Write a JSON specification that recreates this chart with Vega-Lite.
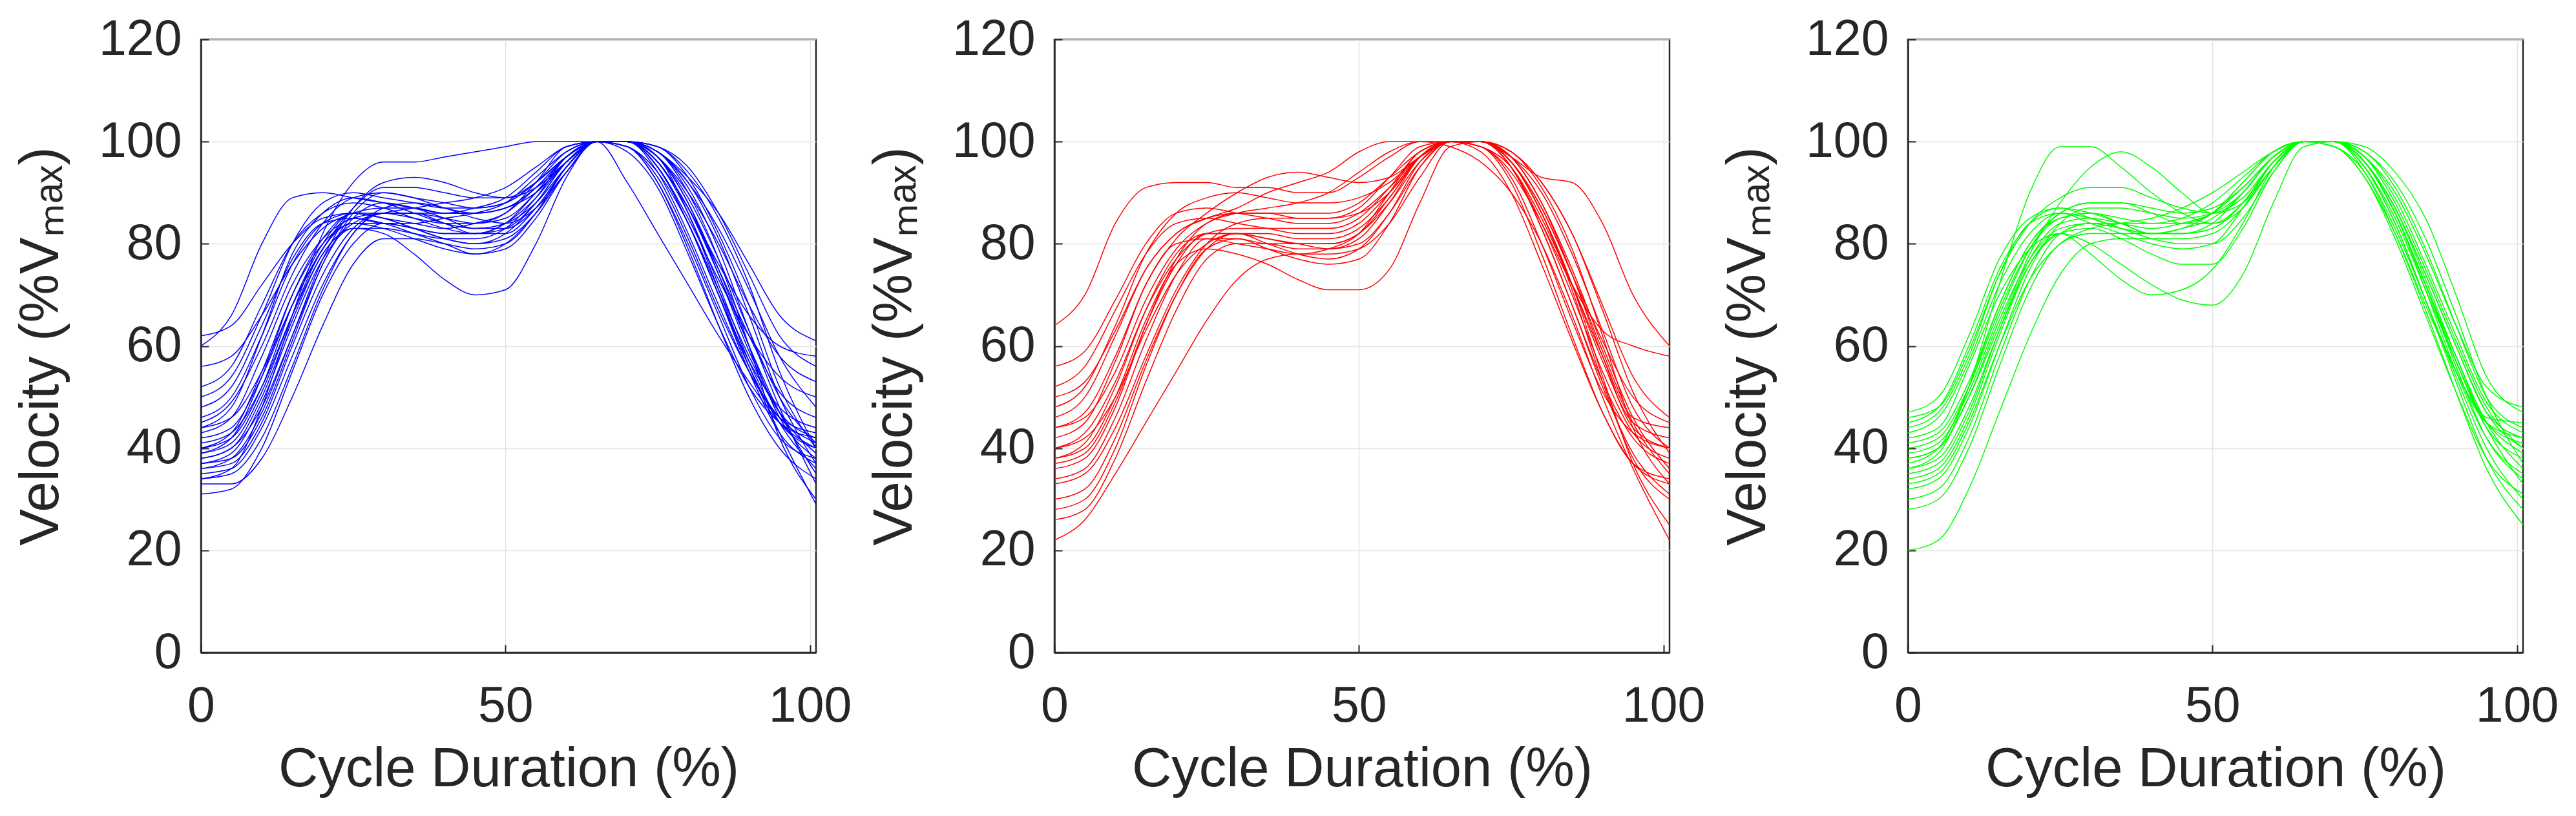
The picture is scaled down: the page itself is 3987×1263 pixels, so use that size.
{
"$schema":"https://vega.github.io/schema/vega-lite/v6.json",
"background":"white",
"padding":{"left":20,"top":20,"right":0,"bottom":0},
"config":{
"font":"Liberation Sans",
"view":{"stroke":"#262626","strokeWidth":2.5},
"axis":{"labelFontSize":77,"titleFontSize":85,"labelColor":"#262626","titleColor":"#262626","titleFontWeight":"normal","domainColor":"#262626","domainWidth":2.5,"tickColor":"#262626","tickWidth":2,"tickSize":-12,"gridColor":"#e3e3e3","gridWidth":1.5,"labelFlush":false,"labelOverlap":false}
},
"datasets":{
"A":[
{"c":1,"x":0,"y":40},{"c":1,"x":5,"y":42},{"c":1,"x":10,"y":52},{"c":1,"x":15,"y":68},{"c":1,"x":20,"y":80},{"c":1,"x":25,"y":86},{"c":1,"x":30,"y":86},{"c":1,"x":35,"y":85},{"c":1,"x":40,"y":84},{"c":1,"x":45,"y":84},{"c":1,"x":50,"y":86},{"c":1,"x":55,"y":92},{"c":1,"x":60,"y":99},{"c":1,"x":65,"y":100},{"c":1,"x":70,"y":100},{"c":1,"x":75,"y":95},{"c":1,"x":80,"y":84},{"c":1,"x":85,"y":70},{"c":1,"x":90,"y":56},{"c":1,"x":95,"y":45},{"c":1,"x":101,"y":40},
{"c":2,"x":0,"y":36},{"c":2,"x":5,"y":37},{"c":2,"x":10,"y":45},{"c":2,"x":15,"y":60},{"c":2,"x":20,"y":74},{"c":2,"x":25,"y":83},{"c":2,"x":30,"y":86},{"c":2,"x":35,"y":86},{"c":2,"x":40,"y":85},{"c":2,"x":45,"y":84},{"c":2,"x":50,"y":85},{"c":2,"x":55,"y":90},{"c":2,"x":60,"y":97},{"c":2,"x":65,"y":100},{"c":2,"x":70,"y":100},{"c":2,"x":75,"y":97},{"c":2,"x":80,"y":88},{"c":2,"x":85,"y":75},{"c":2,"x":90,"y":60},{"c":2,"x":95,"y":46},{"c":2,"x":101,"y":38},
{"c":3,"x":0,"y":60},{"c":3,"x":5,"y":66},{"c":3,"x":10,"y":80},{"c":3,"x":15,"y":89},{"c":3,"x":20,"y":90},{"c":3,"x":25,"y":89},{"c":3,"x":30,"y":88},{"c":3,"x":35,"y":87},{"c":3,"x":40,"y":86},{"c":3,"x":45,"y":87},{"c":3,"x":50,"y":89},{"c":3,"x":55,"y":94},{"c":3,"x":60,"y":99},{"c":3,"x":65,"y":100},{"c":3,"x":70,"y":100},{"c":3,"x":75,"y":96},{"c":3,"x":80,"y":87},{"c":3,"x":85,"y":76},{"c":3,"x":90,"y":66},{"c":3,"x":95,"y":60},{"c":3,"x":101,"y":58},
{"c":4,"x":0,"y":44},{"c":4,"x":5,"y":48},{"c":4,"x":10,"y":62},{"c":4,"x":15,"y":78},{"c":4,"x":20,"y":86},{"c":4,"x":25,"y":89},{"c":4,"x":30,"y":88},{"c":4,"x":35,"y":86},{"c":4,"x":40,"y":84},{"c":4,"x":45,"y":83},{"c":4,"x":50,"y":84},{"c":4,"x":55,"y":88},{"c":4,"x":60,"y":95},{"c":4,"x":65,"y":100},{"c":4,"x":70,"y":100},{"c":4,"x":75,"y":94},{"c":4,"x":80,"y":82},{"c":4,"x":85,"y":68},{"c":4,"x":90,"y":55},{"c":4,"x":95,"y":46},{"c":4,"x":101,"y":43},
{"c":5,"x":0,"y":38},{"c":5,"x":5,"y":40},{"c":5,"x":10,"y":50},{"c":5,"x":15,"y":65},{"c":5,"x":20,"y":78},{"c":5,"x":25,"y":83},{"c":5,"x":30,"y":82},{"c":5,"x":35,"y":78},{"c":5,"x":40,"y":73},{"c":5,"x":45,"y":70},{"c":5,"x":50,"y":71},{"c":5,"x":55,"y":80},{"c":5,"x":60,"y":93},{"c":5,"x":65,"y":100},{"c":5,"x":70,"y":99},{"c":5,"x":75,"y":92},{"c":5,"x":80,"y":80},{"c":5,"x":85,"y":66},{"c":5,"x":90,"y":52},{"c":5,"x":95,"y":42},{"c":5,"x":101,"y":38},
{"c":6,"x":0,"y":34},{"c":6,"x":5,"y":36},{"c":6,"x":10,"y":48},{"c":6,"x":15,"y":66},{"c":6,"x":20,"y":82},{"c":6,"x":25,"y":92},{"c":6,"x":30,"y":96},{"c":6,"x":35,"y":96},{"c":6,"x":40,"y":97},{"c":6,"x":45,"y":98},{"c":6,"x":50,"y":99},{"c":6,"x":55,"y":100},{"c":6,"x":60,"y":100},{"c":6,"x":65,"y":100},{"c":6,"x":70,"y":99},{"c":6,"x":75,"y":94},{"c":6,"x":80,"y":84},{"c":6,"x":85,"y":71},{"c":6,"x":90,"y":58},{"c":6,"x":95,"y":47},{"c":6,"x":101,"y":42},
{"c":7,"x":0,"y":31},{"c":7,"x":5,"y":32},{"c":7,"x":10,"y":40},{"c":7,"x":15,"y":55},{"c":7,"x":20,"y":70},{"c":7,"x":25,"y":80},{"c":7,"x":30,"y":84},{"c":7,"x":35,"y":83},{"c":7,"x":40,"y":82},{"c":7,"x":45,"y":82},{"c":7,"x":50,"y":83},{"c":7,"x":55,"y":88},{"c":7,"x":60,"y":96},{"c":7,"x":65,"y":100},{"c":7,"x":70,"y":100},{"c":7,"x":75,"y":98},{"c":7,"x":80,"y":90},{"c":7,"x":85,"y":77},{"c":7,"x":90,"y":60},{"c":7,"x":95,"y":42},{"c":7,"x":101,"y":30},
{"c":8,"x":0,"y":52},{"c":8,"x":5,"y":56},{"c":8,"x":10,"y":68},{"c":8,"x":15,"y":80},{"c":8,"x":20,"y":86},{"c":8,"x":25,"y":88},{"c":8,"x":30,"y":87},{"c":8,"x":35,"y":85},{"c":8,"x":40,"y":83},{"c":8,"x":45,"y":82},{"c":8,"x":50,"y":84},{"c":8,"x":55,"y":89},{"c":8,"x":60,"y":96},{"c":8,"x":65,"y":100},{"c":8,"x":70,"y":100},{"c":8,"x":75,"y":97},{"c":8,"x":80,"y":90},{"c":8,"x":85,"y":80},{"c":8,"x":90,"y":68},{"c":8,"x":95,"y":58},{"c":8,"x":101,"y":53},
{"c":9,"x":0,"y":42},{"c":9,"x":5,"y":44},{"c":9,"x":10,"y":54},{"c":9,"x":15,"y":68},{"c":9,"x":20,"y":79},{"c":9,"x":25,"y":85},{"c":9,"x":30,"y":84},{"c":9,"x":35,"y":82},{"c":9,"x":40,"y":80},{"c":9,"x":45,"y":78},{"c":9,"x":50,"y":79},{"c":9,"x":55,"y":85},{"c":9,"x":60,"y":94},{"c":9,"x":65,"y":100},{"c":9,"x":70,"y":100},{"c":9,"x":75,"y":96},{"c":9,"x":80,"y":86},{"c":9,"x":85,"y":72},{"c":9,"x":90,"y":57},{"c":9,"x":95,"y":45},{"c":9,"x":101,"y":36},
{"c":10,"x":0,"y":38},{"c":10,"x":5,"y":40},{"c":10,"x":10,"y":48},{"c":10,"x":15,"y":62},{"c":10,"x":20,"y":76},{"c":10,"x":25,"y":86},{"c":10,"x":30,"y":90},{"c":10,"x":35,"y":89},{"c":10,"x":40,"y":87},{"c":10,"x":45,"y":86},{"c":10,"x":50,"y":87},{"c":10,"x":55,"y":91},{"c":10,"x":60,"y":97},{"c":10,"x":65,"y":100},{"c":10,"x":70,"y":100},{"c":10,"x":75,"y":99},{"c":10,"x":80,"y":93},{"c":10,"x":85,"y":82},{"c":10,"x":90,"y":68},{"c":10,"x":95,"y":52},{"c":10,"x":101,"y":40},
{"c":11,"x":0,"y":45},{"c":11,"x":5,"y":49},{"c":11,"x":10,"y":60},{"c":11,"x":15,"y":74},{"c":11,"x":20,"y":84},{"c":11,"x":25,"y":89},{"c":11,"x":30,"y":90},{"c":11,"x":35,"y":89},{"c":11,"x":40,"y":88},{"c":11,"x":45,"y":87},{"c":11,"x":50,"y":88},{"c":11,"x":55,"y":92},{"c":11,"x":60,"y":98},{"c":11,"x":65,"y":100},{"c":11,"x":70,"y":100},{"c":11,"x":75,"y":95},{"c":11,"x":80,"y":84},{"c":11,"x":85,"y":70},{"c":11,"x":90,"y":57},{"c":11,"x":95,"y":48},{"c":11,"x":101,"y":44},
{"c":12,"x":0,"y":33},{"c":12,"x":5,"y":33},{"c":12,"x":10,"y":38},{"c":12,"x":15,"y":50},{"c":12,"x":20,"y":64},{"c":12,"x":25,"y":76},{"c":12,"x":30,"y":81},{"c":12,"x":35,"y":81},{"c":12,"x":40,"y":80},{"c":12,"x":45,"y":79},{"c":12,"x":50,"y":80},{"c":12,"x":55,"y":86},{"c":12,"x":60,"y":95},{"c":12,"x":65,"y":100},{"c":12,"x":70,"y":100},{"c":12,"x":75,"y":98},{"c":12,"x":80,"y":91},{"c":12,"x":85,"y":79},{"c":12,"x":90,"y":63},{"c":12,"x":95,"y":48},{"c":12,"x":101,"y":33},
{"c":13,"x":0,"y":48},{"c":13,"x":5,"y":52},{"c":13,"x":10,"y":64},{"c":13,"x":15,"y":77},{"c":13,"x":20,"y":84},{"c":13,"x":25,"y":85},{"c":13,"x":30,"y":84},{"c":13,"x":35,"y":84},{"c":13,"x":40,"y":85},{"c":13,"x":45,"y":86},{"c":13,"x":50,"y":88},{"c":13,"x":55,"y":93},{"c":13,"x":60,"y":98},{"c":13,"x":65,"y":100},{"c":13,"x":70,"y":98},{"c":13,"x":75,"y":91},{"c":13,"x":80,"y":78},{"c":13,"x":85,"y":64},{"c":13,"x":90,"y":52},{"c":13,"x":95,"y":45},{"c":13,"x":101,"y":42},
{"c":14,"x":0,"y":40},{"c":14,"x":5,"y":43},{"c":14,"x":10,"y":55},{"c":14,"x":15,"y":70},{"c":14,"x":20,"y":80},{"c":14,"x":25,"y":84},{"c":14,"x":30,"y":84},{"c":14,"x":35,"y":83},{"c":14,"x":40,"y":82},{"c":14,"x":45,"y":82},{"c":14,"x":50,"y":84},{"c":14,"x":55,"y":90},{"c":14,"x":60,"y":97},{"c":14,"x":65,"y":100},{"c":14,"x":70,"y":92},{"c":14,"x":75,"y":82},{"c":14,"x":80,"y":72},{"c":14,"x":85,"y":62},{"c":14,"x":90,"y":53},{"c":14,"x":95,"y":45},{"c":14,"x":101,"y":40},
{"c":15,"x":0,"y":36},{"c":15,"x":5,"y":38},{"c":15,"x":10,"y":47},{"c":15,"x":15,"y":62},{"c":15,"x":20,"y":77},{"c":15,"x":25,"y":87},{"c":15,"x":30,"y":92},{"c":15,"x":35,"y":93},{"c":15,"x":40,"y":92},{"c":15,"x":45,"y":90},{"c":15,"x":50,"y":89},{"c":15,"x":55,"y":91},{"c":15,"x":60,"y":96},{"c":15,"x":65,"y":100},{"c":15,"x":70,"y":100},{"c":15,"x":75,"y":97},{"c":15,"x":80,"y":89},{"c":15,"x":85,"y":77},{"c":15,"x":90,"y":63},{"c":15,"x":95,"y":50},{"c":15,"x":101,"y":41},
{"c":16,"x":0,"y":56},{"c":16,"x":5,"y":58},{"c":16,"x":10,"y":66},{"c":16,"x":15,"y":76},{"c":16,"x":20,"y":83},{"c":16,"x":25,"y":86},{"c":16,"x":30,"y":87},{"c":16,"x":35,"y":87},{"c":16,"x":40,"y":86},{"c":16,"x":45,"y":86},{"c":16,"x":50,"y":87},{"c":16,"x":55,"y":90},{"c":16,"x":60,"y":96},{"c":16,"x":65,"y":100},{"c":16,"x":70,"y":100},{"c":16,"x":75,"y":99},{"c":16,"x":80,"y":95},{"c":16,"x":85,"y":86},{"c":16,"x":90,"y":74},{"c":16,"x":95,"y":62},{"c":16,"x":101,"y":56},
{"c":17,"x":0,"y":39},{"c":17,"x":5,"y":41},{"c":17,"x":10,"y":51},{"c":17,"x":15,"y":66},{"c":17,"x":20,"y":79},{"c":17,"x":25,"y":84},{"c":17,"x":30,"y":83},{"c":17,"x":35,"y":81},{"c":17,"x":40,"y":79},{"c":17,"x":45,"y":78},{"c":17,"x":50,"y":80},{"c":17,"x":55,"y":86},{"c":17,"x":60,"y":95},{"c":17,"x":65,"y":100},{"c":17,"x":70,"y":100},{"c":17,"x":75,"y":96},{"c":17,"x":80,"y":87},{"c":17,"x":85,"y":74},{"c":17,"x":90,"y":60},{"c":17,"x":95,"y":47},{"c":17,"x":101,"y":35},
{"c":18,"x":0,"y":43},{"c":18,"x":5,"y":46},{"c":18,"x":10,"y":58},{"c":18,"x":15,"y":72},{"c":18,"x":20,"y":81},{"c":18,"x":25,"y":85},{"c":18,"x":30,"y":86},{"c":18,"x":35,"y":86},{"c":18,"x":40,"y":86},{"c":18,"x":45,"y":86},{"c":18,"x":50,"y":87},{"c":18,"x":55,"y":90},{"c":18,"x":60,"y":96},{"c":18,"x":65,"y":100},{"c":18,"x":70,"y":99},{"c":18,"x":75,"y":93},{"c":18,"x":80,"y":81},{"c":18,"x":85,"y":67},{"c":18,"x":90,"y":55},{"c":18,"x":95,"y":46},{"c":18,"x":101,"y":41},
{"c":19,"x":0,"y":35},{"c":19,"x":5,"y":36},{"c":19,"x":10,"y":44},{"c":19,"x":15,"y":58},{"c":19,"x":20,"y":72},{"c":19,"x":25,"y":82},{"c":19,"x":30,"y":87},{"c":19,"x":35,"y":88},{"c":19,"x":40,"y":87},{"c":19,"x":45,"y":85},{"c":19,"x":50,"y":84},{"c":19,"x":55,"y":87},{"c":19,"x":60,"y":94},{"c":19,"x":65,"y":100},{"c":19,"x":70,"y":100},{"c":19,"x":75,"y":97},{"c":19,"x":80,"y":86},{"c":19,"x":85,"y":71},{"c":19,"x":90,"y":56},{"c":19,"x":95,"y":43},{"c":19,"x":101,"y":29},
{"c":20,"x":0,"y":50},{"c":20,"x":5,"y":54},{"c":20,"x":10,"y":66},{"c":20,"x":15,"y":80},{"c":20,"x":20,"y":88},{"c":20,"x":25,"y":90},{"c":20,"x":30,"y":89},{"c":20,"x":35,"y":88},{"c":20,"x":40,"y":87},{"c":20,"x":45,"y":87},{"c":20,"x":50,"y":88},{"c":20,"x":55,"y":92},{"c":20,"x":60,"y":97},{"c":20,"x":65,"y":100},{"c":20,"x":70,"y":100},{"c":20,"x":75,"y":95},{"c":20,"x":80,"y":85},{"c":20,"x":85,"y":73},{"c":20,"x":90,"y":62},{"c":20,"x":95,"y":54},{"c":20,"x":101,"y":50},
{"c":21,"x":0,"y":37},{"c":21,"x":5,"y":38},{"c":21,"x":10,"y":46},{"c":21,"x":15,"y":61},{"c":21,"x":20,"y":76},{"c":21,"x":25,"y":85},{"c":21,"x":30,"y":88},{"c":21,"x":35,"y":87},{"c":21,"x":40,"y":85},{"c":21,"x":45,"y":83},{"c":21,"x":50,"y":83},{"c":21,"x":55,"y":87},{"c":21,"x":60,"y":95},{"c":21,"x":65,"y":100},{"c":21,"x":70,"y":100},{"c":21,"x":75,"y":98},{"c":21,"x":80,"y":92},{"c":21,"x":85,"y":81},{"c":21,"x":90,"y":66},{"c":21,"x":95,"y":50},{"c":21,"x":101,"y":37},
{"c":22,"x":0,"y":46},{"c":22,"x":5,"y":50},{"c":22,"x":10,"y":62},{"c":22,"x":15,"y":76},{"c":22,"x":20,"y":84},{"c":22,"x":25,"y":86},{"c":22,"x":30,"y":85},{"c":22,"x":35,"y":83},{"c":22,"x":40,"y":81},{"c":22,"x":45,"y":80},{"c":22,"x":50,"y":82},{"c":22,"x":55,"y":88},{"c":22,"x":60,"y":96},{"c":22,"x":65,"y":100},{"c":22,"x":70,"y":100},{"c":22,"x":75,"y":96},{"c":22,"x":80,"y":87},{"c":22,"x":85,"y":75},{"c":22,"x":90,"y":62},{"c":22,"x":95,"y":51},{"c":22,"x":101,"y":46},
{"c":23,"x":0,"y":41},{"c":23,"x":5,"y":43},{"c":23,"x":10,"y":52},{"c":23,"x":15,"y":66},{"c":23,"x":20,"y":78},{"c":23,"x":25,"y":84},{"c":23,"x":30,"y":86},{"c":23,"x":35,"y":87},{"c":23,"x":40,"y":88},{"c":23,"x":45,"y":89},{"c":23,"x":50,"y":91},{"c":23,"x":55,"y":95},{"c":23,"x":60,"y":99},{"c":23,"x":65,"y":100},{"c":23,"x":70,"y":100},{"c":23,"x":75,"y":97},{"c":23,"x":80,"y":88},{"c":23,"x":85,"y":74},{"c":23,"x":90,"y":59},{"c":23,"x":95,"y":47},{"c":23,"x":101,"y":39},
{"c":24,"x":0,"y":34},{"c":24,"x":5,"y":35},{"c":24,"x":10,"y":42},{"c":24,"x":15,"y":56},{"c":24,"x":20,"y":71},{"c":24,"x":25,"y":82},{"c":24,"x":30,"y":86},{"c":24,"x":35,"y":86},{"c":24,"x":40,"y":84},{"c":24,"x":45,"y":82},{"c":24,"x":50,"y":82},{"c":24,"x":55,"y":87},{"c":24,"x":60,"y":95},{"c":24,"x":65,"y":100},{"c":24,"x":70,"y":100},{"c":24,"x":75,"y":99},{"c":24,"x":80,"y":94},{"c":24,"x":85,"y":85},{"c":24,"x":90,"y":72},{"c":24,"x":95,"y":55},{"c":24,"x":101,"y":40},
{"c":25,"x":0,"y":62},{"c":25,"x":5,"y":64},{"c":25,"x":10,"y":72},{"c":25,"x":15,"y":80},{"c":25,"x":20,"y":85},{"c":25,"x":25,"y":86},{"c":25,"x":30,"y":85},{"c":25,"x":35,"y":84},{"c":25,"x":40,"y":83},{"c":25,"x":45,"y":84},{"c":25,"x":50,"y":86},{"c":25,"x":55,"y":91},{"c":25,"x":60,"y":97},{"c":25,"x":65,"y":100},{"c":25,"x":70,"y":100},{"c":25,"x":75,"y":98},{"c":25,"x":80,"y":93},{"c":25,"x":85,"y":86},{"c":25,"x":90,"y":76},{"c":25,"x":95,"y":66},{"c":25,"x":101,"y":61},
{"c":26,"x":0,"y":39},{"c":26,"x":5,"y":42},{"c":26,"x":10,"y":54},{"c":26,"x":15,"y":70},{"c":26,"x":20,"y":81},{"c":26,"x":25,"y":86},{"c":26,"x":30,"y":85},{"c":26,"x":35,"y":83},{"c":26,"x":40,"y":81},{"c":26,"x":45,"y":80},{"c":26,"x":50,"y":81},{"c":26,"x":55,"y":86},{"c":26,"x":60,"y":94},{"c":26,"x":65,"y":100},{"c":26,"x":70,"y":99},{"c":26,"x":75,"y":92},{"c":26,"x":80,"y":79},{"c":26,"x":85,"y":64},{"c":26,"x":90,"y":50},{"c":26,"x":95,"y":40},{"c":26,"x":101,"y":34},
{"c":27,"x":0,"y":44},{"c":27,"x":5,"y":46},{"c":27,"x":10,"y":55},{"c":27,"x":15,"y":68},{"c":27,"x":20,"y":79},{"c":27,"x":25,"y":87},{"c":27,"x":30,"y":91},{"c":27,"x":35,"y":91},{"c":27,"x":40,"y":90},{"c":27,"x":45,"y":89},{"c":27,"x":50,"y":89},{"c":27,"x":55,"y":92},{"c":27,"x":60,"y":97},{"c":27,"x":65,"y":100},{"c":27,"x":70,"y":100},{"c":27,"x":75,"y":98},{"c":27,"x":80,"y":92},{"c":27,"x":85,"y":83},{"c":27,"x":90,"y":71},{"c":27,"x":95,"y":58},{"c":27,"x":101,"y":48},
{"c":28,"x":0,"y":37},{"c":28,"x":5,"y":39},{"c":28,"x":10,"y":49},{"c":28,"x":15,"y":64},{"c":28,"x":20,"y":77},{"c":28,"x":25,"y":83},{"c":28,"x":30,"y":83},{"c":28,"x":35,"y":82},{"c":28,"x":40,"y":81},{"c":28,"x":45,"y":81},{"c":28,"x":50,"y":83},{"c":28,"x":55,"y":89},{"c":28,"x":60,"y":97},{"c":28,"x":65,"y":100},{"c":28,"x":70,"y":100},{"c":28,"x":75,"y":95},{"c":28,"x":80,"y":84},{"c":28,"x":85,"y":70},{"c":28,"x":90,"y":55},{"c":28,"x":95,"y":43},{"c":28,"x":101,"y":37}
],
"B":[
{"c":1,"x":0,"y":42},{"c":1,"x":5,"y":45},{"c":1,"x":10,"y":57},{"c":1,"x":15,"y":72},{"c":1,"x":20,"y":80},{"c":1,"x":25,"y":81},{"c":1,"x":30,"y":80},{"c":1,"x":35,"y":79},{"c":1,"x":40,"y":78},{"c":1,"x":45,"y":79},{"c":1,"x":50,"y":82},{"c":1,"x":55,"y":90},{"c":1,"x":60,"y":98},{"c":1,"x":65,"y":100},{"c":1,"x":70,"y":100},{"c":1,"x":75,"y":95},{"c":1,"x":80,"y":84},{"c":1,"x":85,"y":70},{"c":1,"x":90,"y":55},{"c":1,"x":95,"y":43},{"c":1,"x":101,"y":38},
{"c":2,"x":0,"y":64},{"c":2,"x":5,"y":70},{"c":2,"x":10,"y":84},{"c":2,"x":15,"y":91},{"c":2,"x":20,"y":92},{"c":2,"x":25,"y":92},{"c":2,"x":30,"y":91},{"c":2,"x":35,"y":91},{"c":2,"x":40,"y":90},{"c":2,"x":45,"y":90},{"c":2,"x":50,"y":93},{"c":2,"x":55,"y":97},{"c":2,"x":60,"y":100},{"c":2,"x":65,"y":100},{"c":2,"x":70,"y":99},{"c":2,"x":75,"y":94},{"c":2,"x":80,"y":84},{"c":2,"x":85,"y":72},{"c":2,"x":90,"y":63},{"c":2,"x":95,"y":60},{"c":2,"x":101,"y":58},
{"c":3,"x":0,"y":22},{"c":3,"x":5,"y":26},{"c":3,"x":10,"y":35},{"c":3,"x":15,"y":45},{"c":3,"x":20,"y":55},{"c":3,"x":25,"y":65},{"c":3,"x":30,"y":73},{"c":3,"x":35,"y":77},{"c":3,"x":40,"y":78},{"c":3,"x":45,"y":78},{"c":3,"x":50,"y":79},{"c":3,"x":55,"y":84},{"c":3,"x":60,"y":93},{"c":3,"x":65,"y":100},{"c":3,"x":70,"y":100},{"c":3,"x":75,"y":96},{"c":3,"x":80,"y":86},{"c":3,"x":85,"y":72},{"c":3,"x":90,"y":54},{"c":3,"x":95,"y":37},{"c":3,"x":101,"y":25},
{"c":4,"x":0,"y":38},{"c":4,"x":5,"y":40},{"c":4,"x":10,"y":50},{"c":4,"x":15,"y":65},{"c":4,"x":20,"y":76},{"c":4,"x":25,"y":79},{"c":4,"x":30,"y":78},{"c":4,"x":35,"y":76},{"c":4,"x":40,"y":73},{"c":4,"x":45,"y":71},{"c":4,"x":50,"y":71},{"c":4,"x":55,"y":75},{"c":4,"x":60,"y":88},{"c":4,"x":65,"y":99},{"c":4,"x":70,"y":100},{"c":4,"x":75,"y":95},{"c":4,"x":80,"y":83},{"c":4,"x":85,"y":68},{"c":4,"x":90,"y":53},{"c":4,"x":95,"y":42},{"c":4,"x":101,"y":37},
{"c":5,"x":0,"y":48},{"c":5,"x":5,"y":52},{"c":5,"x":10,"y":64},{"c":5,"x":15,"y":78},{"c":5,"x":20,"y":86},{"c":5,"x":25,"y":89},{"c":5,"x":30,"y":90},{"c":5,"x":35,"y":89},{"c":5,"x":40,"y":88},{"c":5,"x":45,"y":88},{"c":5,"x":50,"y":89},{"c":5,"x":55,"y":92},{"c":5,"x":60,"y":97},{"c":5,"x":65,"y":100},{"c":5,"x":70,"y":99},{"c":5,"x":75,"y":93},{"c":5,"x":80,"y":80},{"c":5,"x":85,"y":65},{"c":5,"x":90,"y":51},{"c":5,"x":95,"y":43},{"c":5,"x":101,"y":40},
{"c":6,"x":0,"y":50},{"c":6,"x":5,"y":53},{"c":6,"x":10,"y":63},{"c":6,"x":15,"y":75},{"c":6,"x":20,"y":82},{"c":6,"x":25,"y":85},{"c":6,"x":30,"y":86},{"c":6,"x":35,"y":86},{"c":6,"x":40,"y":86},{"c":6,"x":45,"y":86},{"c":6,"x":50,"y":88},{"c":6,"x":55,"y":93},{"c":6,"x":60,"y":98},{"c":6,"x":65,"y":100},{"c":6,"x":70,"y":100},{"c":6,"x":75,"y":97},{"c":6,"x":80,"y":93},{"c":6,"x":85,"y":92},{"c":6,"x":90,"y":84},{"c":6,"x":95,"y":70},{"c":6,"x":101,"y":60},
{"c":7,"x":0,"y":30},{"c":7,"x":5,"y":32},{"c":7,"x":10,"y":42},{"c":7,"x":15,"y":57},{"c":7,"x":20,"y":70},{"c":7,"x":25,"y":79},{"c":7,"x":30,"y":82},{"c":7,"x":35,"y":82},{"c":7,"x":40,"y":81},{"c":7,"x":45,"y":81},{"c":7,"x":50,"y":83},{"c":7,"x":55,"y":89},{"c":7,"x":60,"y":97},{"c":7,"x":65,"y":100},{"c":7,"x":70,"y":100},{"c":7,"x":75,"y":96},{"c":7,"x":80,"y":86},{"c":7,"x":85,"y":71},{"c":7,"x":90,"y":53},{"c":7,"x":95,"y":38},{"c":7,"x":101,"y":30},
{"c":8,"x":0,"y":36},{"c":8,"x":5,"y":38},{"c":8,"x":10,"y":48},{"c":8,"x":15,"y":64},{"c":8,"x":20,"y":77},{"c":8,"x":25,"y":84},{"c":8,"x":30,"y":86},{"c":8,"x":35,"y":86},{"c":8,"x":40,"y":85},{"c":8,"x":45,"y":85},{"c":8,"x":50,"y":87},{"c":8,"x":55,"y":93},{"c":8,"x":60,"y":99},{"c":8,"x":65,"y":100},{"c":8,"x":70,"y":100},{"c":8,"x":75,"y":96},{"c":8,"x":80,"y":87},{"c":8,"x":85,"y":74},{"c":8,"x":90,"y":59},{"c":8,"x":95,"y":45},{"c":8,"x":101,"y":35},
{"c":9,"x":0,"y":44},{"c":9,"x":5,"y":47},{"c":9,"x":10,"y":58},{"c":9,"x":15,"y":72},{"c":9,"x":20,"y":81},{"c":9,"x":25,"y":86},{"c":9,"x":30,"y":90},{"c":9,"x":35,"y":93},{"c":9,"x":40,"y":94},{"c":9,"x":45,"y":93},{"c":9,"x":50,"y":92},{"c":9,"x":55,"y":93},{"c":9,"x":60,"y":97},{"c":9,"x":65,"y":100},{"c":9,"x":70,"y":99},{"c":9,"x":75,"y":92},{"c":9,"x":80,"y":78},{"c":9,"x":85,"y":62},{"c":9,"x":90,"y":47},{"c":9,"x":95,"y":37},{"c":9,"x":101,"y":33},
{"c":10,"x":0,"y":26},{"c":10,"x":5,"y":28},{"c":10,"x":10,"y":38},{"c":10,"x":15,"y":53},{"c":10,"x":20,"y":67},{"c":10,"x":25,"y":77},{"c":10,"x":30,"y":80},{"c":10,"x":35,"y":80},{"c":10,"x":40,"y":79},{"c":10,"x":45,"y":79},{"c":10,"x":50,"y":81},{"c":10,"x":55,"y":88},{"c":10,"x":60,"y":97},{"c":10,"x":65,"y":100},{"c":10,"x":70,"y":100},{"c":10,"x":75,"y":98},{"c":10,"x":80,"y":91},{"c":10,"x":85,"y":79},{"c":10,"x":90,"y":62},{"c":10,"x":95,"y":44},{"c":10,"x":101,"y":33},
{"c":11,"x":0,"y":40},{"c":11,"x":5,"y":43},{"c":11,"x":10,"y":53},{"c":11,"x":15,"y":67},{"c":11,"x":20,"y":77},{"c":11,"x":25,"y":82},{"c":11,"x":30,"y":83},{"c":11,"x":35,"y":83},{"c":11,"x":40,"y":83},{"c":11,"x":45,"y":83},{"c":11,"x":50,"y":85},{"c":11,"x":55,"y":91},{"c":11,"x":60,"y":98},{"c":11,"x":65,"y":100},{"c":11,"x":70,"y":98},{"c":11,"x":75,"y":90},{"c":11,"x":80,"y":76},{"c":11,"x":85,"y":61},{"c":11,"x":90,"y":47},{"c":11,"x":95,"y":37},{"c":11,"x":101,"y":34},
{"c":12,"x":0,"y":46},{"c":12,"x":5,"y":50},{"c":12,"x":10,"y":62},{"c":12,"x":15,"y":75},{"c":12,"x":20,"y":82},{"c":12,"x":25,"y":85},{"c":12,"x":30,"y":87},{"c":12,"x":35,"y":90},{"c":12,"x":40,"y":92},{"c":12,"x":45,"y":94},{"c":12,"x":50,"y":98},{"c":12,"x":55,"y":100},{"c":12,"x":60,"y":100},{"c":12,"x":65,"y":99},{"c":12,"x":70,"y":96},{"c":12,"x":75,"y":90},{"c":12,"x":80,"y":80},{"c":12,"x":85,"y":66},{"c":12,"x":90,"y":50},{"c":12,"x":95,"y":36},{"c":12,"x":101,"y":22},
{"c":13,"x":0,"y":34},{"c":13,"x":5,"y":36},{"c":13,"x":10,"y":46},{"c":13,"x":15,"y":61},{"c":13,"x":20,"y":74},{"c":13,"x":25,"y":81},{"c":13,"x":30,"y":81},{"c":13,"x":35,"y":79},{"c":13,"x":40,"y":77},{"c":13,"x":45,"y":76},{"c":13,"x":50,"y":77},{"c":13,"x":55,"y":84},{"c":13,"x":60,"y":95},{"c":13,"x":65,"y":100},{"c":13,"x":70,"y":100},{"c":13,"x":75,"y":97},{"c":13,"x":80,"y":88},{"c":13,"x":85,"y":74},{"c":13,"x":90,"y":58},{"c":13,"x":95,"y":44},{"c":13,"x":101,"y":40},
{"c":14,"x":0,"y":52},{"c":14,"x":5,"y":56},{"c":14,"x":10,"y":67},{"c":14,"x":15,"y":78},{"c":14,"x":20,"y":84},{"c":14,"x":25,"y":85},{"c":14,"x":30,"y":84},{"c":14,"x":35,"y":83},{"c":14,"x":40,"y":82},{"c":14,"x":45,"y":82},{"c":14,"x":50,"y":84},{"c":14,"x":55,"y":90},{"c":14,"x":60,"y":97},{"c":14,"x":65,"y":100},{"c":14,"x":70,"y":100},{"c":14,"x":75,"y":98},{"c":14,"x":80,"y":92},{"c":14,"x":85,"y":82},{"c":14,"x":90,"y":68},{"c":14,"x":95,"y":54},{"c":14,"x":101,"y":46},
{"c":15,"x":0,"y":38},{"c":15,"x":5,"y":41},{"c":15,"x":10,"y":52},{"c":15,"x":15,"y":67},{"c":15,"x":20,"y":78},{"c":15,"x":25,"y":82},{"c":15,"x":30,"y":82},{"c":15,"x":35,"y":81},{"c":15,"x":40,"y":80},{"c":15,"x":45,"y":80},{"c":15,"x":50,"y":82},{"c":15,"x":55,"y":88},{"c":15,"x":60,"y":96},{"c":15,"x":65,"y":100},{"c":15,"x":70,"y":100},{"c":15,"x":75,"y":96},{"c":15,"x":80,"y":86},{"c":15,"x":85,"y":72},{"c":15,"x":90,"y":57},{"c":15,"x":95,"y":45},{"c":15,"x":101,"y":42},
{"c":16,"x":0,"y":40},{"c":16,"x":5,"y":42},{"c":16,"x":10,"y":50},{"c":16,"x":15,"y":63},{"c":16,"x":20,"y":74},{"c":16,"x":25,"y":80},{"c":16,"x":30,"y":82},{"c":16,"x":35,"y":81},{"c":16,"x":40,"y":80},{"c":16,"x":45,"y":79},{"c":16,"x":50,"y":80},{"c":16,"x":55,"y":86},{"c":16,"x":60,"y":95},{"c":16,"x":65,"y":100},{"c":16,"x":70,"y":100},{"c":16,"x":75,"y":97},{"c":16,"x":80,"y":90},{"c":16,"x":85,"y":78},{"c":16,"x":90,"y":63},{"c":16,"x":95,"y":48},{"c":16,"x":101,"y":40},
{"c":17,"x":0,"y":33},{"c":17,"x":5,"y":35},{"c":17,"x":10,"y":44},{"c":17,"x":15,"y":58},{"c":17,"x":20,"y":71},{"c":17,"x":25,"y":80},{"c":17,"x":30,"y":84},{"c":17,"x":35,"y":85},{"c":17,"x":40,"y":85},{"c":17,"x":45,"y":85},{"c":17,"x":50,"y":86},{"c":17,"x":55,"y":90},{"c":17,"x":60,"y":97},{"c":17,"x":65,"y":100},{"c":17,"x":70,"y":100},{"c":17,"x":75,"y":95},{"c":17,"x":80,"y":83},{"c":17,"x":85,"y":68},{"c":17,"x":90,"y":52},{"c":17,"x":95,"y":39},{"c":17,"x":101,"y":31},
{"c":18,"x":0,"y":44},{"c":18,"x":5,"y":46},{"c":18,"x":10,"y":55},{"c":18,"x":15,"y":69},{"c":18,"x":20,"y":79},{"c":18,"x":25,"y":84},{"c":18,"x":30,"y":86},{"c":18,"x":35,"y":87},{"c":18,"x":40,"y":88},{"c":18,"x":45,"y":90},{"c":18,"x":50,"y":94},{"c":18,"x":55,"y":98},{"c":18,"x":60,"y":100},{"c":18,"x":65,"y":100},{"c":18,"x":70,"y":99},{"c":18,"x":75,"y":95},{"c":18,"x":80,"y":85},{"c":18,"x":85,"y":72},{"c":18,"x":90,"y":58},{"c":18,"x":95,"y":46},{"c":18,"x":101,"y":44},
{"c":19,"x":0,"y":37},{"c":19,"x":5,"y":39},{"c":19,"x":10,"y":49},{"c":19,"x":15,"y":64},{"c":19,"x":20,"y":76},{"c":19,"x":25,"y":82},{"c":19,"x":30,"y":82},{"c":19,"x":35,"y":80},{"c":19,"x":40,"y":78},{"c":19,"x":45,"y":77},{"c":19,"x":50,"y":79},{"c":19,"x":55,"y":86},{"c":19,"x":60,"y":96},{"c":19,"x":65,"y":100},{"c":19,"x":70,"y":100},{"c":19,"x":75,"y":98},{"c":19,"x":80,"y":92},{"c":19,"x":85,"y":82},{"c":19,"x":90,"y":67},{"c":19,"x":95,"y":51},{"c":19,"x":101,"y":39},
{"c":20,"x":0,"y":56},{"c":20,"x":5,"y":59},{"c":20,"x":10,"y":69},{"c":20,"x":15,"y":80},{"c":20,"x":20,"y":86},{"c":20,"x":25,"y":87},{"c":20,"x":30,"y":86},{"c":20,"x":35,"y":85},{"c":20,"x":40,"y":84},{"c":20,"x":45,"y":84},{"c":20,"x":50,"y":86},{"c":20,"x":55,"y":91},{"c":20,"x":60,"y":97},{"c":20,"x":65,"y":100},{"c":20,"x":70,"y":100},{"c":20,"x":75,"y":96},{"c":20,"x":80,"y":87},{"c":20,"x":85,"y":74},{"c":20,"x":90,"y":61},{"c":20,"x":95,"y":50},{"c":20,"x":101,"y":45},
{"c":21,"x":0,"y":28},{"c":21,"x":5,"y":30},{"c":21,"x":10,"y":40},{"c":21,"x":15,"y":56},{"c":21,"x":20,"y":70},{"c":21,"x":25,"y":79},{"c":21,"x":30,"y":81},{"c":21,"x":35,"y":80},{"c":21,"x":40,"y":80},{"c":21,"x":45,"y":80},{"c":21,"x":50,"y":82},{"c":21,"x":55,"y":89},{"c":21,"x":60,"y":97},{"c":21,"x":65,"y":100},{"c":21,"x":70,"y":100},{"c":21,"x":75,"y":97},{"c":21,"x":80,"y":88},{"c":21,"x":85,"y":75},{"c":21,"x":90,"y":60},{"c":21,"x":95,"y":46},{"c":21,"x":101,"y":36}
],
"C":[
{"c":1,"x":0,"y":40},{"c":1,"x":5,"y":42},{"c":1,"x":10,"y":52},{"c":1,"x":15,"y":67},{"c":1,"x":20,"y":79},{"c":1,"x":25,"y":85},{"c":1,"x":30,"y":86},{"c":1,"x":35,"y":84},{"c":1,"x":40,"y":82},{"c":1,"x":45,"y":82},{"c":1,"x":50,"y":83},{"c":1,"x":55,"y":88},{"c":1,"x":60,"y":96},{"c":1,"x":65,"y":100},{"c":1,"x":70,"y":100},{"c":1,"x":75,"y":95},{"c":1,"x":80,"y":85},{"c":1,"x":85,"y":71},{"c":1,"x":90,"y":57},{"c":1,"x":95,"y":45},{"c":1,"x":101,"y":41},
{"c":2,"x":0,"y":36},{"c":2,"x":5,"y":39},{"c":2,"x":10,"y":52},{"c":2,"x":15,"y":72},{"c":2,"x":20,"y":90},{"c":2,"x":25,"y":99},{"c":2,"x":30,"y":99},{"c":2,"x":35,"y":95},{"c":2,"x":40,"y":90},{"c":2,"x":45,"y":86},{"c":2,"x":50,"y":84},{"c":2,"x":55,"y":87},{"c":2,"x":60,"y":95},{"c":2,"x":65,"y":100},{"c":2,"x":70,"y":100},{"c":2,"x":75,"y":96},{"c":2,"x":80,"y":87},{"c":2,"x":85,"y":74},{"c":2,"x":90,"y":60},{"c":2,"x":95,"y":47},{"c":2,"x":101,"y":42},
{"c":3,"x":0,"y":34},{"c":3,"x":5,"y":36},{"c":3,"x":10,"y":46},{"c":3,"x":15,"y":62},{"c":3,"x":20,"y":76},{"c":3,"x":25,"y":82},{"c":3,"x":30,"y":80},{"c":3,"x":35,"y":76},{"c":3,"x":40,"y":72},{"c":3,"x":45,"y":69},{"c":3,"x":50,"y":68},{"c":3,"x":55,"y":74},{"c":3,"x":60,"y":88},{"c":3,"x":65,"y":99},{"c":3,"x":70,"y":100},{"c":3,"x":75,"y":96},{"c":3,"x":80,"y":86},{"c":3,"x":85,"y":72},{"c":3,"x":90,"y":57},{"c":3,"x":95,"y":44},{"c":3,"x":101,"y":38},
{"c":4,"x":0,"y":45},{"c":4,"x":5,"y":48},{"c":4,"x":10,"y":60},{"c":4,"x":15,"y":75},{"c":4,"x":20,"y":84},{"c":4,"x":25,"y":87},{"c":4,"x":30,"y":86},{"c":4,"x":35,"y":84},{"c":4,"x":40,"y":82},{"c":4,"x":45,"y":82},{"c":4,"x":50,"y":84},{"c":4,"x":55,"y":90},{"c":4,"x":60,"y":97},{"c":4,"x":65,"y":100},{"c":4,"x":70,"y":100},{"c":4,"x":75,"y":97},{"c":4,"x":80,"y":90},{"c":4,"x":85,"y":78},{"c":4,"x":90,"y":64},{"c":4,"x":95,"y":52},{"c":4,"x":101,"y":48},
{"c":5,"x":0,"y":20},{"c":5,"x":5,"y":22},{"c":5,"x":10,"y":32},{"c":5,"x":15,"y":47},{"c":5,"x":20,"y":62},{"c":5,"x":25,"y":74},{"c":5,"x":30,"y":80},{"c":5,"x":35,"y":81},{"c":5,"x":40,"y":81},{"c":5,"x":45,"y":81},{"c":5,"x":50,"y":82},{"c":5,"x":55,"y":87},{"c":5,"x":60,"y":95},{"c":5,"x":65,"y":100},{"c":5,"x":70,"y":100},{"c":5,"x":75,"y":95},{"c":5,"x":80,"y":84},{"c":5,"x":85,"y":69},{"c":5,"x":90,"y":53},{"c":5,"x":95,"y":38},{"c":5,"x":101,"y":28},
{"c":6,"x":0,"y":38},{"c":6,"x":5,"y":40},{"c":6,"x":10,"y":50},{"c":6,"x":15,"y":64},{"c":6,"x":20,"y":78},{"c":6,"x":25,"y":88},{"c":6,"x":30,"y":95},{"c":6,"x":35,"y":98},{"c":6,"x":40,"y":95},{"c":6,"x":45,"y":90},{"c":6,"x":50,"y":86},{"c":6,"x":55,"y":88},{"c":6,"x":60,"y":95},{"c":6,"x":65,"y":100},{"c":6,"x":70,"y":100},{"c":6,"x":75,"y":98},{"c":6,"x":80,"y":91},{"c":6,"x":85,"y":79},{"c":6,"x":90,"y":64},{"c":6,"x":95,"y":50},{"c":6,"x":101,"y":44},
{"c":7,"x":0,"y":30},{"c":7,"x":5,"y":32},{"c":7,"x":10,"y":42},{"c":7,"x":15,"y":58},{"c":7,"x":20,"y":73},{"c":7,"x":25,"y":82},{"c":7,"x":30,"y":84},{"c":7,"x":35,"y":83},{"c":7,"x":40,"y":82},{"c":7,"x":45,"y":83},{"c":7,"x":50,"y":85},{"c":7,"x":55,"y":90},{"c":7,"x":60,"y":97},{"c":7,"x":65,"y":100},{"c":7,"x":70,"y":100},{"c":7,"x":75,"y":94},{"c":7,"x":80,"y":82},{"c":7,"x":85,"y":67},{"c":7,"x":90,"y":51},{"c":7,"x":95,"y":36},{"c":7,"x":101,"y":25},
{"c":8,"x":0,"y":42},{"c":8,"x":5,"y":44},{"c":8,"x":10,"y":56},{"c":8,"x":15,"y":70},{"c":8,"x":20,"y":79},{"c":8,"x":25,"y":82},{"c":8,"x":30,"y":78},{"c":8,"x":35,"y":73},{"c":8,"x":40,"y":70},{"c":8,"x":45,"y":71},{"c":8,"x":50,"y":75},{"c":8,"x":55,"y":84},{"c":8,"x":60,"y":95},{"c":8,"x":65,"y":100},{"c":8,"x":70,"y":100},{"c":8,"x":75,"y":97},{"c":8,"x":80,"y":88},{"c":8,"x":85,"y":75},{"c":8,"x":90,"y":61},{"c":8,"x":95,"y":48},{"c":8,"x":101,"y":40},
{"c":9,"x":0,"y":47},{"c":9,"x":5,"y":50},{"c":9,"x":10,"y":62},{"c":9,"x":15,"y":77},{"c":9,"x":20,"y":85},{"c":9,"x":25,"y":87},{"c":9,"x":30,"y":85},{"c":9,"x":35,"y":83},{"c":9,"x":40,"y":82},{"c":9,"x":45,"y":83},{"c":9,"x":50,"y":86},{"c":9,"x":55,"y":92},{"c":9,"x":60,"y":98},{"c":9,"x":65,"y":100},{"c":9,"x":70,"y":99},{"c":9,"x":75,"y":93},{"c":9,"x":80,"y":82},{"c":9,"x":85,"y":68},{"c":9,"x":90,"y":55},{"c":9,"x":95,"y":45},{"c":9,"x":101,"y":39},
{"c":10,"x":0,"y":35},{"c":10,"x":5,"y":37},{"c":10,"x":10,"y":47},{"c":10,"x":15,"y":63},{"c":10,"x":20,"y":77},{"c":10,"x":25,"y":84},{"c":10,"x":30,"y":85},{"c":10,"x":35,"y":84},{"c":10,"x":40,"y":83},{"c":10,"x":45,"y":84},{"c":10,"x":50,"y":86},{"c":10,"x":55,"y":91},{"c":10,"x":60,"y":97},{"c":10,"x":65,"y":100},{"c":10,"x":70,"y":100},{"c":10,"x":75,"y":96},{"c":10,"x":80,"y":87},{"c":10,"x":85,"y":73},{"c":10,"x":90,"y":58},{"c":10,"x":95,"y":45},{"c":10,"x":101,"y":36},
{"c":11,"x":0,"y":33},{"c":11,"x":5,"y":35},{"c":11,"x":10,"y":45},{"c":11,"x":15,"y":60},{"c":11,"x":20,"y":73},{"c":11,"x":25,"y":80},{"c":11,"x":30,"y":83},{"c":11,"x":35,"y":84},{"c":11,"x":40,"y":85},{"c":11,"x":45,"y":87},{"c":11,"x":50,"y":90},{"c":11,"x":55,"y":94},{"c":11,"x":60,"y":98},{"c":11,"x":65,"y":100},{"c":11,"x":70,"y":100},{"c":11,"x":75,"y":96},{"c":11,"x":80,"y":86},{"c":11,"x":85,"y":72},{"c":11,"x":90,"y":57},{"c":11,"x":95,"y":44},{"c":11,"x":101,"y":33},
{"c":12,"x":0,"y":39},{"c":12,"x":5,"y":41},{"c":12,"x":10,"y":51},{"c":12,"x":15,"y":66},{"c":12,"x":20,"y":79},{"c":12,"x":25,"y":86},{"c":12,"x":30,"y":88},{"c":12,"x":35,"y":88},{"c":12,"x":40,"y":87},{"c":12,"x":45,"y":86},{"c":12,"x":50,"y":87},{"c":12,"x":55,"y":91},{"c":12,"x":60,"y":97},{"c":12,"x":65,"y":100},{"c":12,"x":70,"y":100},{"c":12,"x":75,"y":99},{"c":12,"x":80,"y":94},{"c":12,"x":85,"y":85},{"c":12,"x":90,"y":70},{"c":12,"x":95,"y":54},{"c":12,"x":101,"y":47},
{"c":13,"x":0,"y":43},{"c":13,"x":5,"y":46},{"c":13,"x":10,"y":57},{"c":13,"x":15,"y":72},{"c":13,"x":20,"y":82},{"c":13,"x":25,"y":86},{"c":13,"x":30,"y":85},{"c":13,"x":35,"y":83},{"c":13,"x":40,"y":81},{"c":13,"x":45,"y":80},{"c":13,"x":50,"y":80},{"c":13,"x":55,"y":85},{"c":13,"x":60,"y":94},{"c":13,"x":65,"y":100},{"c":13,"x":70,"y":100},{"c":13,"x":75,"y":95},{"c":13,"x":80,"y":84},{"c":13,"x":85,"y":69},{"c":13,"x":90,"y":55},{"c":13,"x":95,"y":45},{"c":13,"x":101,"y":42},
{"c":14,"x":0,"y":28},{"c":14,"x":5,"y":30},{"c":14,"x":10,"y":40},{"c":14,"x":15,"y":56},{"c":14,"x":20,"y":71},{"c":14,"x":25,"y":80},{"c":14,"x":30,"y":82},{"c":14,"x":35,"y":82},{"c":14,"x":40,"y":82},{"c":14,"x":45,"y":82},{"c":14,"x":50,"y":83},{"c":14,"x":55,"y":88},{"c":14,"x":60,"y":96},{"c":14,"x":65,"y":100},{"c":14,"x":70,"y":99},{"c":14,"x":75,"y":94},{"c":14,"x":80,"y":83},{"c":14,"x":85,"y":69},{"c":14,"x":90,"y":54},{"c":14,"x":95,"y":40},{"c":14,"x":101,"y":30},
{"c":15,"x":0,"y":37},{"c":15,"x":5,"y":40},{"c":15,"x":10,"y":52},{"c":15,"x":15,"y":68},{"c":15,"x":20,"y":80},{"c":15,"x":25,"y":85},{"c":15,"x":30,"y":86},{"c":15,"x":35,"y":85},{"c":15,"x":40,"y":84},{"c":15,"x":45,"y":84},{"c":15,"x":50,"y":86},{"c":15,"x":55,"y":92},{"c":15,"x":60,"y":98},{"c":15,"x":65,"y":100},{"c":15,"x":70,"y":100},{"c":15,"x":75,"y":96},{"c":15,"x":80,"y":86},{"c":15,"x":85,"y":71},{"c":15,"x":90,"y":55},{"c":15,"x":95,"y":42},{"c":15,"x":101,"y":35},
{"c":16,"x":0,"y":41},{"c":16,"x":5,"y":43},{"c":16,"x":10,"y":53},{"c":16,"x":15,"y":68},{"c":16,"x":20,"y":80},{"c":16,"x":25,"y":86},{"c":16,"x":30,"y":88},{"c":16,"x":35,"y":88},{"c":16,"x":40,"y":86},{"c":16,"x":45,"y":84},{"c":16,"x":50,"y":84},{"c":16,"x":55,"y":88},{"c":16,"x":60,"y":96},{"c":16,"x":65,"y":100},{"c":16,"x":70,"y":100},{"c":16,"x":75,"y":97},{"c":16,"x":80,"y":89},{"c":16,"x":85,"y":76},{"c":16,"x":90,"y":62},{"c":16,"x":95,"y":49},{"c":16,"x":101,"y":43},
{"c":17,"x":0,"y":44},{"c":17,"x":5,"y":47},{"c":17,"x":10,"y":58},{"c":17,"x":15,"y":74},{"c":17,"x":20,"y":84},{"c":17,"x":25,"y":86},{"c":17,"x":30,"y":84},{"c":17,"x":35,"y":82},{"c":17,"x":40,"y":80},{"c":17,"x":45,"y":79},{"c":17,"x":50,"y":80},{"c":17,"x":55,"y":87},{"c":17,"x":60,"y":96},{"c":17,"x":65,"y":100},{"c":17,"x":70,"y":100},{"c":17,"x":75,"y":96},{"c":17,"x":80,"y":87},{"c":17,"x":85,"y":74},{"c":17,"x":90,"y":60},{"c":17,"x":95,"y":47},{"c":17,"x":101,"y":40},
{"c":18,"x":0,"y":32},{"c":18,"x":5,"y":34},{"c":18,"x":10,"y":44},{"c":18,"x":15,"y":60},{"c":18,"x":20,"y":75},{"c":18,"x":25,"y":84},{"c":18,"x":30,"y":87},{"c":18,"x":35,"y":87},{"c":18,"x":40,"y":86},{"c":18,"x":45,"y":85},{"c":18,"x":50,"y":86},{"c":18,"x":55,"y":90},{"c":18,"x":60,"y":97},{"c":18,"x":65,"y":100},{"c":18,"x":70,"y":100},{"c":18,"x":75,"y":98},{"c":18,"x":80,"y":92},{"c":18,"x":85,"y":81},{"c":18,"x":90,"y":66},{"c":18,"x":95,"y":50},{"c":18,"x":101,"y":37},
{"c":19,"x":0,"y":38},{"c":19,"x":5,"y":40},{"c":19,"x":10,"y":50},{"c":19,"x":15,"y":65},{"c":19,"x":20,"y":77},{"c":19,"x":25,"y":83},{"c":19,"x":30,"y":84},{"c":19,"x":35,"y":84},{"c":19,"x":40,"y":84},{"c":19,"x":45,"y":85},{"c":19,"x":50,"y":88},{"c":19,"x":55,"y":93},{"c":19,"x":60,"y":98},{"c":19,"x":65,"y":100},{"c":19,"x":70,"y":99},{"c":19,"x":75,"y":93},{"c":19,"x":80,"y":81},{"c":19,"x":85,"y":66},{"c":19,"x":90,"y":51},{"c":19,"x":95,"y":38},{"c":19,"x":101,"y":31},
{"c":20,"x":0,"y":46},{"c":20,"x":5,"y":48},{"c":20,"x":10,"y":59},{"c":20,"x":15,"y":74},{"c":20,"x":20,"y":84},{"c":20,"x":25,"y":89},{"c":20,"x":30,"y":91},{"c":20,"x":35,"y":91},{"c":20,"x":40,"y":89},{"c":20,"x":45,"y":87},{"c":20,"x":50,"y":86},{"c":20,"x":55,"y":89},{"c":20,"x":60,"y":96},{"c":20,"x":65,"y":100},{"c":20,"x":70,"y":100},{"c":20,"x":75,"y":96},{"c":20,"x":80,"y":86},{"c":20,"x":85,"y":72},{"c":20,"x":90,"y":58},{"c":20,"x":95,"y":46},{"c":20,"x":101,"y":45},
{"c":21,"x":0,"y":36},{"c":21,"x":5,"y":38},{"c":21,"x":10,"y":48},{"c":21,"x":15,"y":63},{"c":21,"x":20,"y":76},{"c":21,"x":25,"y":82},{"c":21,"x":30,"y":83},{"c":21,"x":35,"y":81},{"c":21,"x":40,"y":78},{"c":21,"x":45,"y":76},{"c":21,"x":50,"y":76},{"c":21,"x":55,"y":83},{"c":21,"x":60,"y":94},{"c":21,"x":65,"y":100},{"c":21,"x":70,"y":100},{"c":21,"x":75,"y":96},{"c":21,"x":80,"y":86},{"c":21,"x":85,"y":72},{"c":21,"x":90,"y":56},{"c":21,"x":95,"y":42},{"c":21,"x":101,"y":34}
]
},
"hconcat":[
{"data":{"name":"A"},"width":952,"height":949,
"mark":{"type":"line","color":"#0000ff","strokeWidth":1.5,"interpolate":"monotone"},
"encoding":{
"x":{"field":"x","type":"quantitative","scale":{"domain":[0,101],"nice":false},"axis":{"values":[0,50,100],"title":"Cycle Duration (%)","labelPadding":57,"titlePadding":18}},
"y":{"field":"y","type":"quantitative","scale":{"domain":[0,120],"nice":false},"axis":{"values":[0,20,40,60,80,100,120],"title":"Velocity (%Vₘₐₓ)","labelPadding":42,"titlePadding":45}},
"detail":{"field":"c","type":"nominal"}}},
{"data":{"name":"B"},"width":952,"height":949,
"mark":{"type":"line","color":"#ff0000","strokeWidth":1.5,"interpolate":"monotone"},
"encoding":{
"x":{"field":"x","type":"quantitative","scale":{"domain":[0,101],"nice":false},"axis":{"values":[0,50,100],"title":"Cycle Duration (%)","labelPadding":57,"titlePadding":18}},
"y":{"field":"y","type":"quantitative","scale":{"domain":[0,120],"nice":false},"axis":{"values":[0,20,40,60,80,100,120],"title":"Velocity (%Vₘₐₓ)","labelPadding":42,"titlePadding":45}},
"detail":{"field":"c","type":"nominal"}}},
{"data":{"name":"C"},"width":952,"height":949,
"mark":{"type":"line","color":"#00ff00","strokeWidth":1.5,"interpolate":"monotone"},
"encoding":{
"x":{"field":"x","type":"quantitative","scale":{"domain":[0,101],"nice":false},"axis":{"values":[0,50,100],"title":"Cycle Duration (%)","labelPadding":57,"titlePadding":18}},
"y":{"field":"y","type":"quantitative","scale":{"domain":[0,120],"nice":false},"axis":{"values":[0,20,40,60,80,100,120],"title":"Velocity (%Vₘₐₓ)","labelPadding":42,"titlePadding":45}},
"detail":{"field":"c","type":"nominal"}}}
],
"bounds":"flush",
"spacing":369
}
